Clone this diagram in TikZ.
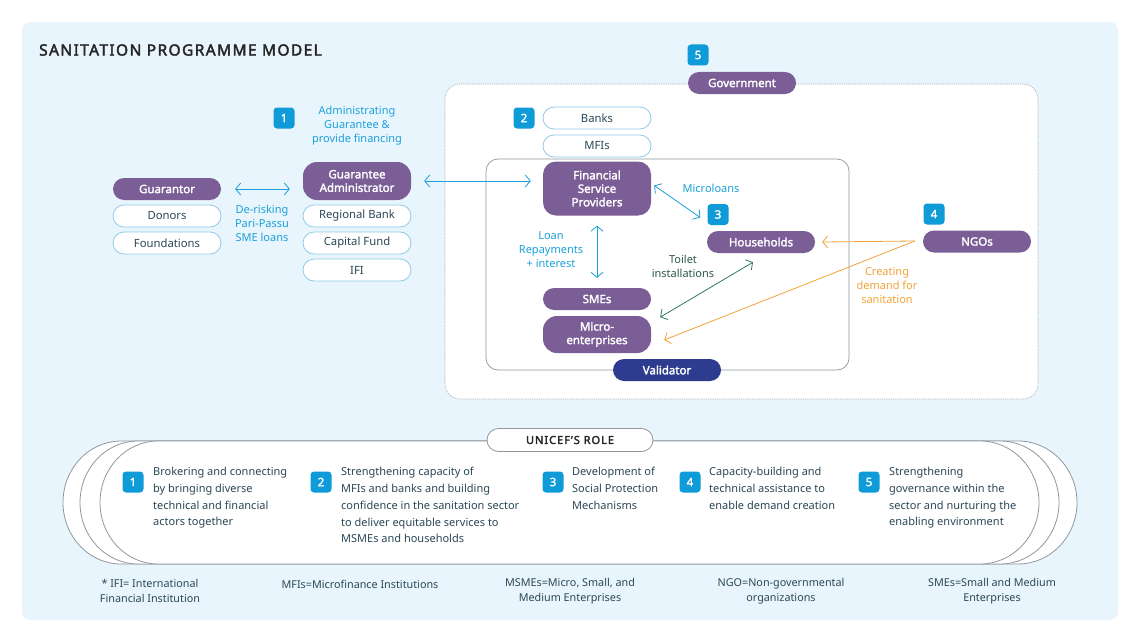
\documentclass[tikz,border=0pt]{standalone}
\usepackage{fontspec}
\setmainfont{Noto Sans}
\newfontfamily\bfnoto{Noto Sans}[FakeBold=2.2]
\newfontfamily\spacedfont{Noto Sans}[LetterSpace=9,FakeBold=2.5]
\usetikzlibrary{arrows.meta,calc}
\definecolor{panel}{HTML}{E9F5FD}
\definecolor{purp}{HTML}{7B5E96}
\definecolor{badge}{HTML}{0E9BD8}
\definecolor{lblue}{HTML}{1BA0D9}
\definecolor{outl}{HTML}{8FCBE6}
\definecolor{txt}{HTML}{2B4756}
\definecolor{vald}{HTML}{2D3C8E}
\definecolor{orng}{HTML}{F2A33A}
\definecolor{grn}{HTML}{2F7A60}
\definecolor{grntxt}{HTML}{2C5848}
\definecolor{frame}{HTML}{8F979F}
\begin{document}
\begin{tikzpicture}[x=1pt,y=-1pt,
  >={Straight Barb[length=5pt,width=12pt]},
  every node/.style={font=\fontsize{10.5}{14}\selectfont},
  pill/.style={fill=purp, text=white, font=\bfnoto\fontsize{11.5}{13.5}\selectfont, rounded corners=11pt, minimum width=108pt, minimum height=22pt, inner sep=0pt, align=center},
  opill/.style={draw=outl, line width=0.8pt, fill=white, text=txt, font=\fontsize{11.3}{13}\selectfont, rounded corners=11pt, minimum width=108pt, minimum height=22pt, inner sep=0pt},
  badgebox/.style={fill=badge, text=white, font=\bfnoto\fontsize{11.5}{12}\selectfont, rounded corners=3.5pt, minimum size=21pt, inner sep=0pt},
  lbl/.style={text=lblue, align=center, inner sep=0pt, font=\fontsize{11}{14}\selectfont},
  foot/.style={text=txt, align=center, inner sep=0pt, font=\fontsize{10.8}{15}\selectfont},
  role/.style={text=txt, align=left, anchor=north west, inner sep=0pt, font=\fontsize{11}{16.8}\selectfont},
  arr/.style={line width=0.8pt, <->},
  arrone/.style={line width=0.8pt, ->},
  stadium/.style={draw=frame, line width=0.8pt, fill=white},
]
% canvas and panel
\fill[white] (0,0) rectangle (1140,642);
\fill[panel, rounded corners=8pt] (22,22) rectangle (1118,620);
\node[anchor=west, inner sep=0pt, font=\spacedfont\fontsize{15.5}{17}\selectfont, text=black!85] (title) at (39,50) {SANITATION PROGRAMME MODEL};

% regions
\draw[frame!80, fill=white, line width=0.6pt, dash pattern=on 1.2pt off 1pt, rounded corners=15pt] (445,84) rectangle (1038,399);
\draw[frame, line width=0.7pt, rounded corners=12pt] (486,159) rectangle (849,370);

% left side
\node[badgebox] (b1) at (284,118) {1};
\node[lbl] (l1) at (357,126) {Administrating\\Guarantee \&\\provide financing};
\node[pill] (guar) at (167,189) {Guarantor};
\node[opill] (don) at (167,216) {Donors};
\node[opill] (fnd) at (167,243) {Foundations};
\node[pill, minimum height=38pt, rounded corners=14pt] (ga) at (357,181) {Guarantee\\Administrator};
\node[opill] (rb) at (357,216) {Regional Bank};
\node[opill] (cf) at (357,243) {Capital Fund};
\node[opill] (ifi) at (357,270) {IFI};
\node[lbl] (dr) at (262,223) {De-risking\\Pari-Passu\\SME loans};

% government area
\node[badgebox] (b5) at (698,55) {5};
\node[pill] (gov) at (742,83) {Government};
\node[badgebox] (b2) at (524,118) {2};
\node[opill] (banks) at (597,118) {Banks};
\node[opill] (mfis) at (597,146) {MFIs};
\node[pill, minimum height=54pt, rounded corners=13pt] (fsp) at (597,188.5) {Financial\\Service\\Providers};
\node[pill] (sme) at (597,299) {SMEs};
\node[pill, minimum height=37pt, rounded corners=14pt] (micro) at (597,334.5) {Micro-\\enterprises};
\node[pill, fill=vald] (val) at (667,370) {Validator};
\node[badgebox] (b3) at (718,214.5) {3};
\node[pill] (hh) at (761,242) {Households};
\node[badgebox] (b4) at (934,214) {4};
\node[pill] (ngo) at (977,241.5) {NGOs};

% labels
\node[lbl] (ml) at (711,188) {Microloans};
\node[lbl] (lr) at (551,250) {Loan\\Repayments\\+ interest};
\node[lbl, text=grntxt] (ti) at (683,266) {Toilet\\installations};
\node[lbl, text=orng] (cd) at (887,285) {Creating\\demand for\\sanitation};

% connectors
\draw[arr, lblue] ($(guar.east)+(14,0)$) -- ($(ga.west |- guar.east)+(-13,0)$);
\draw[arr, lblue] ($(ga.east)+(13,0)$) -- ($(fsp.west |- ga.east)+(-12,0)$);
\draw[arr, lblue] ($(fsp.east)+(3,-3)$) -- ($(b3.west)+(-7,3)$);
\draw[arr, lblue] ($(fsp.south)+(0,10)$) -- ($(sme.north)+(0,-10)$);
\draw[arr, grn] ($(hh.south)+(-8,9)$) -- ($(sme.south east)+(9,7)$);
\coordinate (ngoL) at ($(ngo.west)+(-8,-0.5)$);
\draw[arrone, orng] (ngoL) -- ($(hh.east)+(7,0)$);
\draw[arrone, orng] (ngoL) -- ($(micro.east)+(13,5.5)$);

% UNICEF role band
\draw[stadium] (121,441) -- (1018,441) arc[start angle=-90, end angle=90, x radius=59, y radius=61.5] -- (121,564) arc[start angle=90, end angle=270, x radius=58, y radius=61.5] -- cycle;
\draw[stadium] (138,441) -- (1000,441) arc[start angle=-90, end angle=90, x radius=59, y radius=61.5] -- (138,564) arc[start angle=90, end angle=270, x radius=58, y radius=61.5] -- cycle;
\draw[stadium] (158,441) -- (980,441) arc[start angle=-90, end angle=90, x radius=59, y radius=61.5] -- (158,564) arc[start angle=90, end angle=270, x radius=58, y radius=61.5] -- cycle;
\node[draw=frame, line width=0.8pt, fill=white, rounded corners=11.5pt, minimum width=166pt, minimum height=23pt, inner sep=0pt, text=black!85, font=\spacedfont\fontsize{11}{12}\selectfont] (role) at (570,440) {UNICEF’S ROLE};

\node[badgebox] (r1) at (133,482) {1};
\node[role] (t1) at (153,467) {Brokering and connecting\\by bringing diverse\\technical and financial\\actors together};
\node[badgebox] (r2) at (321,482) {2};
\node[role] (t2) at (341,467) {Strengthening capacity of\\MFIs and banks and building\\confidence in the sanitation sector\\to deliver equitable services to\\MSMEs and households};
\node[badgebox] (r3) at (553,482) {3};
\node[role] (t3) at (572,467) {Development of\\Social Protection\\Mechanisms};
\node[badgebox] (r4) at (690,482) {4};
\node[role] (t4) at (709,467) {Capacity-building and\\technical assistance to\\enable demand creation};
\node[badgebox] (r5) at (869,482) {5};
\node[role] (t5) at (889,467) {Strengthening\\governance within the\\sector and nurturing the\\enabling environment};

% footer
\node[foot] (f1) at (150,591) {* IFI= International\\Financial Institution};
\node[foot] (f2) at (360,584) {MFIs=Microfinance Institutions};
\node[foot] (f3) at (570,591) {MSMEs=Micro, Small, and\\Medium Enterprises};
\node[foot] (f4) at (781,591) {NGO=Non-governmental\\organizations};
\node[foot] (f5) at (992,591) {SMEs=Small and Medium\\Enterprises};
\end{tikzpicture}
\end{document}
